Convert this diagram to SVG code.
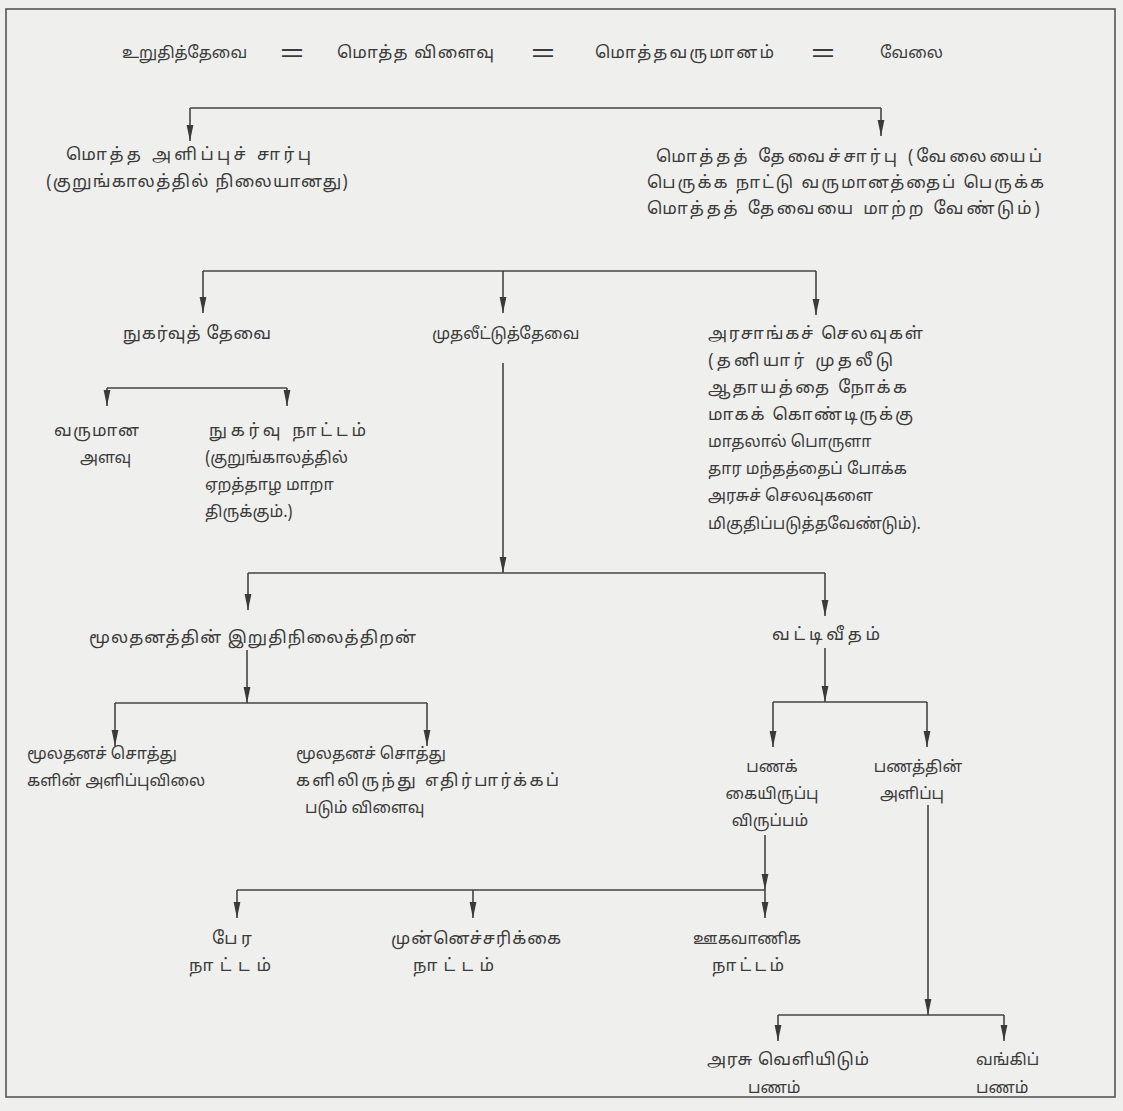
<svg xmlns="http://www.w3.org/2000/svg" width="1123" height="1111" viewBox="0 0 1123 1111">
<defs>
<marker id="dn" markerUnits="userSpaceOnUse" markerWidth="8" markerHeight="18" refX="4" refY="16" viewBox="0 0 8 18">
<path d="M0.6,0 L7.4,0 L4,16 Z" fill="#3a3a3a"/>
</marker>
</defs>
<style>
.t{font-family:"Noto Sans Tamil","Lohit Tamil","Noto Sans","DejaVu Sans",sans-serif;font-size:16px;fill:#3b3b3b}
.b{font-size:17px}
.eq{font-family:"Liberation Sans",sans-serif;font-size:26px;fill:#3b3b3b}
.ln{fill:none;stroke:#444;stroke-width:1.6}
.ar{fill:none;stroke:#444;stroke-width:1.6;marker-end:url(#dn)}
</style>
<rect x="0" y="0" width="1123" height="1111" fill="#efefed"/>
<rect x="6" y="9" width="1109" height="1088" fill="none" stroke="#555" stroke-width="1.6"/>

<g id="title" class="t">
<text x="122" y="58">உறுதித்தேவை</text>
<text class="b" x="337" y="58" textLength="157" lengthAdjust="spacing">மொத்த விளைவு</text>
<text class="b" x="595" y="58" textLength="179" lengthAdjust="spacing">மொத்தவருமானம்</text>
<text x="880" y="58">வேலை</text>
</g>
<g id="equals" class="eq">
<text x="280" y="61" textLength="24" lengthAdjust="spacingAndGlyphs">=</text>
<text x="531" y="61" textLength="24" lengthAdjust="spacingAndGlyphs">=</text>
<text x="811" y="61" textLength="24" lengthAdjust="spacingAndGlyphs">=</text>
</g>

<g id="connectors">
<path class="ln" d="M190,108 H881"/>
<path class="ar" d="M190,108 V141"/>
<path class="ar" d="M881,108 V136"/>
<path class="ln" d="M203,271 H816"/>
<path class="ar" d="M203,271 V313"/>
<path class="ar" d="M503,271 V313"/>
<path class="ar" d="M816,271 V315"/>
<path class="ln" d="M107,388 H287"/>
<path class="ar" d="M107,388 V406"/>
<path class="ar" d="M287,388 V406"/>
<path class="ar" d="M503,363 V573"/>
<path class="ln" d="M248,573 H825"/>
<path class="ar" d="M248,573 V610"/>
<path class="ar" d="M825,573 V616"/>
<path class="ar" d="M247,650 V703"/>
<path class="ln" d="M115,703 H427"/>
<path class="ar" d="M115,703 V746"/>
<path class="ar" d="M427,703 V746"/>
<path class="ar" d="M825,648 V702"/>
<path class="ln" d="M773,702 H927"/>
<path class="ar" d="M773,702 V747"/>
<path class="ar" d="M927,702 V747"/>
<path class="ar" d="M765,835 V890"/>
<path class="ln" d="M237,890 H765"/>
<path class="ar" d="M237,890 V918"/>
<path class="ar" d="M473,890 V918"/>
<path class="ar" d="M765,890 V918"/>
<path class="ar" d="M928,805 V1015"/>
<path class="ln" d="M778,1015 H1004"/>
<path class="ar" d="M778,1015 V1041"/>
<path class="ar" d="M1004,1015 V1041"/>
</g>

<g id="n-supply" class="t b">
<text x="66" y="160" textLength="245" lengthAdjust="spacing">மொத்த அளிப்புச் சார்பு</text>
<text x="46" y="187" textLength="302" lengthAdjust="spacing">(குறுங்காலத்தில் நிலையானது)</text>
</g>
<g id="n-demand" class="t b">
<text x="656" y="162" textLength="386" lengthAdjust="spacing">மொத்தத் தேவைச்சார்பு (வேலையைப்</text>
<text x="647" y="188" textLength="397" lengthAdjust="spacing">பெருக்க நாட்டு வருமானத்தைப் பெருக்க</text>
<text x="647" y="214" textLength="393" lengthAdjust="spacing">மொத்தத் தேவையை மாற்ற வேண்டும்)</text>
</g>
<g id="n-consumption" class="t b">
<text x="123" y="339" textLength="148" lengthAdjust="spacing">நுகர்வுத் தேவை</text>
</g>
<g id="n-investment" class="t">
<text x="432" y="339">முதலீட்டுத்தேவை</text>
</g>
<g id="n-govt" class="t">
<text class="b" x="708" y="339" textLength="215" lengthAdjust="spacing">அரசாங்கச் செலவுகள்</text>
<text class="b" x="708" y="366" textLength="185" lengthAdjust="spacing">(தனியார் முதலீடு</text>
<text class="b" x="708" y="393" textLength="199" lengthAdjust="spacing">ஆதாயத்தை நோக்க</text>
<text class="b" x="708" y="420" textLength="205" lengthAdjust="spacing">மாகக் கொண்டிருக்கு</text>
<text x="708" y="447">மாதலால் பொருளா</text>
<text x="708" y="474">தார மந்தத்தைப் போக்க</text>
<text x="708" y="501">அரசுச் செலவுகளை</text>
<text x="708" y="529">மிகுதிப்படுத்தவேண்டும்).</text>
</g>
<g id="n-income" class="t">
<text class="b" x="54" y="436" textLength="85" lengthAdjust="spacing">வருமான</text>
<text x="80" y="463">அளவு</text>
</g>
<g id="n-propensity" class="t">
<text class="b" x="209" y="436" textLength="157" lengthAdjust="spacing">நுகர்வு நாட்டம்</text>
<text x="205" y="463">(குறுங்காலத்தில்</text>
<text x="205" y="490">ஏறத்தாழ மாறா</text>
<text x="205" y="517">திருக்கும்.)</text>
</g>
<g id="n-mec" class="t b">
<text x="89" y="643" textLength="327" lengthAdjust="spacing">மூலதனத்தின் இறுதிநிலைத்திறன்</text>
</g>
<g id="n-interest" class="t b">
<text x="772" y="640" textLength="108" lengthAdjust="spacing">வட்டிவீதம்</text>
</g>
<g id="n-supplyprice" class="t">
<text x="27" y="759">மூலதனச் சொத்து</text>
<text x="27" y="786">களின் அளிப்புவிலை</text>
</g>
<g id="n-yield" class="t">
<text x="296" y="759">மூலதனச் சொத்து</text>
<text class="b" x="296" y="786" textLength="263" lengthAdjust="spacing">களிலிருந்து எதிர்பார்க்கப்</text>
<text x="305" y="813">படும் விளைவு</text>
</g>
<g id="n-liquidity" class="t">
<text x="772" y="772" text-anchor="middle">பணக்</text>
<text x="772" y="799" text-anchor="middle">கையிருப்பு</text>
<text x="770" y="826" text-anchor="middle">விருப்பம்</text>
</g>
<g id="n-moneysupply" class="t">
<text x="918" y="772" text-anchor="middle">பணத்தின்</text>
<text x="912" y="799" text-anchor="middle">அளிப்பு</text>
</g>
<g id="n-transactions" class="t b">
<text x="212" y="944" textLength="40" lengthAdjust="spacing">பேர</text>
<text x="189" y="971" textLength="82" lengthAdjust="spacing">நாட்டம்</text>
</g>
<g id="n-precaution" class="t b">
<text x="391" y="944" textLength="170" lengthAdjust="spacing">முன்னெச்சரிக்கை</text>
<text x="413" y="971" textLength="81" lengthAdjust="spacing">நாட்டம்</text>
</g>
<g id="n-speculative" class="t">
<text x="693" y="944">ஊகவாணிக</text>
<text class="b" x="712" y="971" textLength="72" lengthAdjust="spacing">நாட்டம்</text>
</g>
<g id="n-govmoney" class="t">
<text class="b" x="707" y="1065" textLength="162" lengthAdjust="spacing">அரசு வெளியிடும்</text>
<text x="748" y="1093">பணம்</text>
</g>
<g id="n-bankmoney" class="t">
<text x="976" y="1065">வங்கிப்</text>
<text x="976" y="1093">பணம்</text>
</g>
</svg>
